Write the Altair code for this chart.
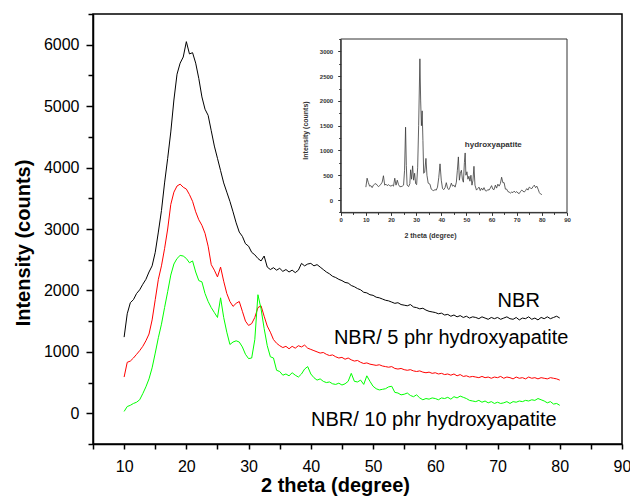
import altair as alt
import pandas as pd

# ---------------- data ----------------
X_MAIN = [round(10 + 0.5 * i, 1) for i in range(141)]

NBR = [
    1240, 1620, 1800, 1850, 1950, 2010, 2100, 2180, 2300, 2400,
    2620, 2950, 3300, 3750, 4150, 4580, 5100, 5520, 5700, 5800,
    6050, 5850, 5870, 5700, 5450, 5150, 4950, 4850, 4600, 4350,
    4150, 3950, 3750, 3600, 3450, 3280, 3100, 2950, 2880, 2760,
    2720, 2620, 2580, 2520, 2480, 2560, 2380, 2340, 2370, 2330,
    2360, 2310, 2340, 2300, 2330, 2290, 2330, 2440, 2400, 2430,
    2440, 2400, 2420, 2380, 2340, 2300, 2270, 2230, 2210, 2180,
    2160, 2130, 2120, 2080, 2060, 2030, 2010, 1970, 1960, 1930,
    1920, 1890, 1880, 1860, 1840, 1830, 1810, 1790, 1800, 1770,
    1760, 1750, 1770, 1730, 1720, 1700, 1710, 1680, 1660, 1650,
    1640, 1620, 1630, 1600, 1610, 1580, 1600, 1570, 1590, 1560,
    1580, 1550, 1570, 1560, 1540, 1570, 1550, 1530, 1560, 1540,
    1560, 1530, 1550, 1570, 1540, 1530, 1560, 1520, 1550, 1540,
    1570, 1530, 1550, 1520, 1560, 1540, 1570, 1540, 1560, 1580,
    1550,
]

NBR5 = [
    590, 830, 850, 900, 960, 1020, 1090, 1180, 1290, 1520,
    1850, 2180, 2400, 2680, 3000, 3400, 3600, 3700, 3730, 3680,
    3650, 3560, 3450, 3280, 3150, 3060, 2930, 2720, 2420, 2330,
    2220, 2380, 2150, 1950, 1820, 1740, 1790, 1820, 1660, 1500,
    1430, 1460, 1560, 1720, 1750, 1580, 1420, 1320, 1200, 1140,
    1100, 1070, 1090, 1050, 1090, 1060, 1100, 1080, 1110, 1060,
    1040, 1020, 1000, 980, 990, 960, 940, 950, 920, 900,
    910, 880, 900, 870, 850, 860, 830, 810, 820, 800,
    790, 780, 790, 770, 760, 750, 760, 730, 720, 730,
    710, 700, 710, 690, 680, 690, 670, 660, 670, 650,
    660, 640, 650, 630, 640, 620, 640, 610, 630, 600,
    610, 590, 600, 590, 580, 600, 580, 590, 570, 590,
    580, 600, 570, 590, 580, 560, 590, 570, 580, 560,
    590, 570, 580, 560, 580, 570, 560, 580, 570, 560,
    540,
]

NBR10 = [
    30, 110, 130, 160, 180, 220, 320, 430, 560, 740,
    980, 1230, 1450, 1720, 1980, 2250, 2430, 2520, 2570, 2560,
    2520, 2450, 2480, 2300, 2160, 2140, 1950, 1820, 1720, 1640,
    1560, 1880, 1560, 1320, 1120, 1160, 1180, 1160, 1080, 960,
    890, 900, 1200, 1930, 1700, 1380, 1100, 920, 900, 700,
    680, 620, 640, 610, 660, 620, 590, 640, 720, 760,
    640, 580, 540, 560, 520, 500, 510, 480, 470, 490,
    460, 480, 520, 650, 520, 510, 540, 470, 610, 520,
    440, 400, 380, 390, 400, 430, 440, 340, 330, 300,
    310, 330, 290, 270, 300, 250, 220, 240, 230, 250,
    240, 220, 250, 240, 260, 230, 270, 250, 280, 260,
    240, 210, 200, 190, 210, 180, 200, 170, 190, 160,
    180, 160, 170, 190, 160, 190, 180, 200, 190, 210,
    200, 220, 210, 240, 220, 200, 170, 190, 150, 160,
    130,
]

SERIES = ["NBR", "NBR/ 5 phr hydroxyapatite", "NBR/ 10 phr hydroxyapatite"]
COLORS = ["#000000", "#ff0000", "#00ff00"]

HA_X = [
    10.0, 10.5, 11.0, 11.5, 12.0, 12.5, 13.0, 13.5, 14.0, 14.5,
    15.0, 15.5, 16.0, 16.5, 17.0, 17.5, 18.0, 18.5, 19.0, 19.5,
    20.0, 20.5, 21.0, 21.5, 22.0, 22.5, 23.0, 23.5, 24.0, 24.5,
    25.0, 25.4, 25.8, 26.1, 26.4, 27.0, 27.5, 27.8, 28.2, 28.6,
    29.0, 29.4, 29.8, 30.2, 30.6, 31.0, 31.5, 31.8, 32.1, 32.4,
    32.7, 33.0, 33.4, 33.9, 34.3, 34.8, 35.5, 36.0, 36.5, 37.0,
    37.5, 38.0, 38.5, 39.0, 39.5, 40.0, 40.5, 41.0, 41.5, 42.0,
    42.5, 43.0, 43.5, 44.0, 44.5, 45.0, 45.5, 46.0, 46.4, 46.8,
    47.2, 47.6, 48.0, 48.4, 48.8, 49.2, 49.5, 49.8, 50.2, 50.6,
    51.0, 51.4, 51.8, 52.2, 52.6, 53.0, 53.4, 54.0, 54.5, 55.0,
    55.5, 56.0, 56.5, 57.0, 57.5, 58.0, 58.5, 59.0, 59.5, 60.0,
    60.5, 61.0, 61.5, 62.0, 62.5, 63.0, 63.5, 64.0, 64.5, 65.0,
    65.5, 66.0, 66.5, 67.0, 67.5, 68.0, 68.5, 69.0, 69.5, 70.0,
    70.5, 71.0, 71.5, 72.0, 72.5, 73.0, 73.5, 74.0, 74.5, 75.0,
    75.5, 76.0, 76.5, 77.0, 77.5, 78.0, 78.5, 79.0, 79.5, 80.0,
]
HA_Y = [
    260, 440, 350, 280, 290, 250, 300, 320, 330, 300,
    270, 290, 320, 360, 490, 300, 320, 290, 310, 290,
    280, 300, 280, 440, 300, 400, 310, 270, 270, 280,
    300, 600, 1470, 700, 300, 270, 330, 610, 420, 690,
    400, 540, 330, 310, 650, 1500, 2850, 2000, 1500, 1800,
    1200, 540, 560, 840, 500, 340, 320, 220, 200, 190,
    210, 200, 260, 450, 730, 400, 230, 210, 250, 350,
    240, 210, 260, 340, 280, 300, 260, 360, 600, 870,
    400, 540, 600, 420, 360, 760, 950, 500, 570, 420,
    480, 380, 500, 300, 400, 680, 300, 200, 230, 260,
    190, 240, 200, 250, 190, 180, 210, 200, 240, 290,
    220, 210, 300, 240, 320, 280, 330, 460, 350, 350,
    220, 220, 170, 160, 140, 160, 150, 180, 150, 170,
    140, 130, 170, 200, 180, 160, 190, 230, 200, 260,
    240, 230, 270, 300, 250, 280, 220, 150, 120, 110,
]

MAIN_X_TICKS = [10, 20, 30, 40, 50, 60, 70, 80, 90]
MAIN_X_MINOR = [5, 15, 25, 35, 45, 55, 65, 75, 85]
MAIN_Y_TICKS = [0, 1000, 2000, 3000, 4000, 5000, 6000]
MAIN_Y_MINOR = [-500, 500, 1500, 2500, 3500, 4500, 5500, 6500]
IN_X_TICKS = [0, 10, 20, 30, 40, 50, 60, 70, 80, 90]
IN_X_MINOR = [5, 15, 25, 35, 45, 55, 65, 75, 85]
IN_Y_TICKS = [0, 500, 1000, 1500, 2000, 2500, 3000]
IN_Y_MINOR = [-250, 250, 750, 1250, 1750, 2250, 2750, 3250]

rows = []
for name, vals in zip(SERIES, [NBR, NBR5, NBR10]):
    for x, y in zip(X_MAIN, vals):
        rows.append({"theta": x, "intensity": y, "series": name})
main_df = pd.DataFrame(rows)
ha_df = pd.DataFrame({"theta": HA_X, "intensity": HA_Y})

FONT = "Liberation Sans"
W, H = 529, 430
one = alt.InlineData(values=[{"a": 1}])

# ---------------- main plot ----------------
main_x = alt.Scale(domain=[5, 90], nice=False, zero=False)
main_y = alt.Scale(domain=[-500, 6500], nice=False, zero=False)

main_lines = alt.Chart(main_df).mark_line(strokeWidth=1).encode(
    x=alt.X(
        "theta:Q", scale=main_x,
        axis=alt.Axis(
            orient="bottom", values=MAIN_X_TICKS, format="d",
            labelFlush=False, labelOverlap=False,
            tickSize=5, labelPadding=9, labelFontSize=16,
            domainWidth=1.5, tickWidth=1.5,
            title="2 theta (degree)", titleFontSize=20, titleFontWeight="bold",
            titleX=242, titleY=47.5, titleAlign="center", titleBaseline="alphabetic",
        ),
    ),
    y=alt.Y(
        "intensity:Q", scale=main_y,
        axis=alt.Axis(
            orient="left", values=MAIN_Y_TICKS, format="d",
            labelFlush=False, labelOverlap=False,
            tickSize=7, labelPadding=7, labelFontSize=16,
            domainWidth=1.5, tickWidth=1.5,
            title="Intensity (counts)", titleFontSize=20, titleFontWeight="bold",
            titleAngle=270, titleX=-64, titleY=228.5, titleAlign="center",
            titleBaseline="alphabetic",
        ),
    ),
    color=alt.Color("series:N", scale=alt.Scale(domain=SERIES, range=COLORS), legend=None),
)


def label(txt, x, y):
    return alt.Chart(one).mark_text(
        text=txt, font=FONT, fontSize=20, color="black", align="right", baseline="alphabetic"
    ).encode(
        x=alt.X(datum=x, type="quantitative", scale=main_x),
        y=alt.Y(datum=y, type="quantitative", scale=main_y),
    )


main = alt.layer(
    main_lines,
    label("NBR", 76.8, 1725),
    label("NBR/ 5 phr hydroxyapatite", 81.4, 1123),
    label("NBR/ 10 phr hydroxyapatite", 79.5, -207),
)

main_minor = alt.Chart(one).mark_point(opacity=0).encode(
    x=alt.X(datum=50, type="quantitative", scale=main_x,
            axis=alt.Axis(orient="bottom", values=MAIN_X_MINOR, labels=False, domain=False,
                          tickSize=5, tickWidth=1.5, title="")),
    y=alt.Y(datum=3000, type="quantitative", scale=main_y,
            axis=alt.Axis(orient="left", values=MAIN_Y_MINOR, labels=False, domain=False,
                          tickSize=5, tickWidth=1.5, title="")),
)

# ---------------- inset ----------------
in_x = alt.Scale(domain=[0, 90], range=[247.7, 474], nice=False, zero=False)
in_y = alt.Scale(domain=[-250, 3250], range=[198.4, 25], nice=False, zero=False)
IN_X_OFF = -231.6
IN_Y_OFF = -247.7

inset_frame = alt.Chart(one).mark_rect(fillOpacity=0, stroke="#333333", strokeWidth=1).encode(
    x=alt.X(datum=0, type="quantitative", scale=in_x),
    x2=alt.X2(datum=90),
    y=alt.Y(datum=-250, type="quantitative", scale=in_y),
    y2=alt.Y2(datum=3250),
)

inset_line = alt.Chart(ha_df).mark_line(color="#3a3a3a", strokeWidth=0.8).encode(
    x=alt.X(
        "theta:Q", scale=in_x,
        axis=alt.Axis(
            orient="bottom", offset=IN_X_OFF, values=IN_X_TICKS, format="d",
            labelFlush=False, labelOverlap=False,
            tickSize=3, labelPadding=1, labelFontSize=6, labelFontWeight="bold",
            labelColor="#333333", domainColor="#333333", tickColor="#333333",
            domainWidth=1, tickWidth=1,
            title="2 theta (degree)", titleFontSize=7, titleFontWeight="bold",
            titleColor="#333333", titleX=337, titleY=25, titleAlign="center",
            titleBaseline="alphabetic",
        ),
    ),
    y=alt.Y(
        "intensity:Q", scale=in_y,
        axis=alt.Axis(
            orient="left", offset=IN_Y_OFF, values=IN_Y_TICKS, format="d",
            labelFlush=False, labelOverlap=False,
            tickSize=3, labelPadding=5, labelFontSize=6, labelFontWeight="bold",
            labelColor="#333333", domainColor="#333333", tickColor="#333333",
            domainWidth=1, tickWidth=1,
            title="Intensity (counts)", titleFontSize=7, titleFontWeight="bold",
            titleColor="#333333", titleAngle=270, titleX=-33.7, titleY=116,
            titleAlign="center", titleBaseline="alphabetic",
        ),
    ),
)

inset_text = alt.Chart(one).mark_text(
    text="hydroxyapatite", font=FONT, fontSize=8, fontWeight="bold", color="#333333",
    align="center", baseline="alphabetic",
).encode(
    x=alt.X(datum=60.7, type="quantitative", scale=in_x),
    y=alt.Y(datum=1078, type="quantitative", scale=in_y),
)

inset = alt.layer(inset_frame, inset_line, inset_text)

inset_minor = alt.Chart(one).mark_point(opacity=0).encode(
    x=alt.X(datum=45, type="quantitative", scale=in_x,
            axis=alt.Axis(orient="bottom", offset=IN_X_OFF, values=IN_X_MINOR, labels=False,
                          domain=False, tickSize=2, tickWidth=1, tickColor="#333333", title="")),
    y=alt.Y(datum=1500, type="quantitative", scale=in_y,
            axis=alt.Axis(orient="left", offset=IN_Y_OFF, values=IN_Y_MINOR, labels=False,
                          domain=False, tickSize=2, tickWidth=1, tickColor="#333333", title="")),
)

chart = (
    alt.layer(main, main_minor, inset, inset_minor)
    .resolve_scale(x="independent", y="independent")
    .properties(
        width=W, height=H,
        autosize=alt.AutoSizeParams(type="none"),
        padding={"left": 93, "top": 14, "right": 8, "bottom": 52},
        background="white",
    )
    .configure_view(stroke="black", strokeWidth=1.5)
    .configure_axis(grid=False, labelFont=FONT, titleFont=FONT, labelColor="black",
                    titleColor="black", domainColor="black", tickColor="black")
)

chart.save("out.html", embed_options={"renderer": "svg", "actions": False})
